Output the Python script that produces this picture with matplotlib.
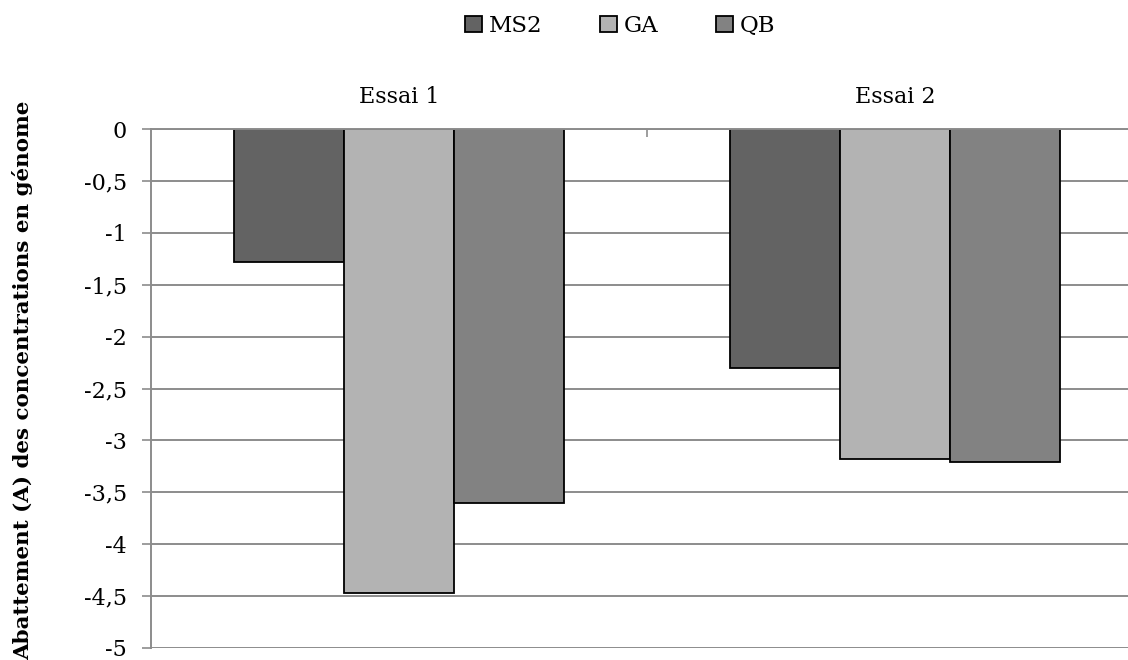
import matplotlib
matplotlib.use("Agg")
import matplotlib.pyplot as plt
import numpy as np

categories = ["Essai 1", "Essai 2"]
series = ["MS2", "GA", "QB"]
ms2 = [-1.28, -2.30]
ga = [-4.47, -3.18]
qb = [-3.60, -3.21]
yticks = [0, -0.5, -1, -1.5, -2, -2.5, -3, -3.5, -4, -4.5, -5]
ytick_labels = ["0", "-0,5", "-1", "-1,5", "-2", "-2,5", "-3", "-3,5", "-4", "-4,5", "-5"]
colors = ["#636363", "#b3b3b3", "#828282"]

plt.rcParams['font.family'] = ['DejaVu Serif']

W, H = 1128, 660
fig = plt.figure(figsize=(W / 100, H / 100), dpi=100)
left_px, right_px, top_px, bot_px = 151, 1143, 129, 648
ax = fig.add_axes([left_px / W, 1 - bot_px / H, (right_px - left_px) / W, (bot_px - top_px) / H])

x = np.arange(len(categories))
bw = 1 / 4.5
for i, (name, vals) in enumerate(zip(series, [ms2, ga, qb])):
    ax.bar(x + (i - 1) * bw, vals, width=bw, color=colors[i], edgecolor="black",
           linewidth=1.3, label=name, zorder=3)

ax.set_xlim(-0.5, 1.5)
ax.set_ylim(-5, 0)
ax.set_yticks(yticks)
ax.set_yticklabels(ytick_labels, fontsize=16)
ax.yaxis.grid(True, color="#8c8c8c", linewidth=1.4, zorder=0)
ax.tick_params(axis="y", length=6.5, width=1.2, color="#8c8c8c", pad=11)

ax.xaxis.tick_top()
ax.set_xticks(x)
ax.set_xticklabels(categories, fontsize=16)
ax.tick_params(axis="x", which="major", length=0, pad=15)
ax.set_xticks([0.5], minor=True)
ax.tick_params(axis="x", which="minor", top=True, direction="in", length=6, width=1.2, color="#8c8c8c")

for s in ["right", "bottom"]:
    ax.spines[s].set_visible(False)
ax.spines["left"].set_color("#8c8c8c")
ax.spines["left"].set_linewidth(1.4)
ax.spines["top"].set_color("#8c8c8c")
ax.spines["top"].set_linewidth(1.4)
ax.spines["top"].set_zorder(4)

fig.text(23 / W, 1 - 380 / H, "Abattement (A) des concentrations en génome",
         rotation=90, ha="center", va="center", fontsize=15.4, fontweight="bold")

leg = fig.legend(loc="center", bbox_to_anchor=(620 / W, 1 - 26 / H), ncol=3, frameon=False,
                 fontsize=16.5, handlelength=0.75, handleheight=0.75, handletextpad=0.3,
                 columnspacing=2.5)

fig.savefig("out.png", dpi=100)
